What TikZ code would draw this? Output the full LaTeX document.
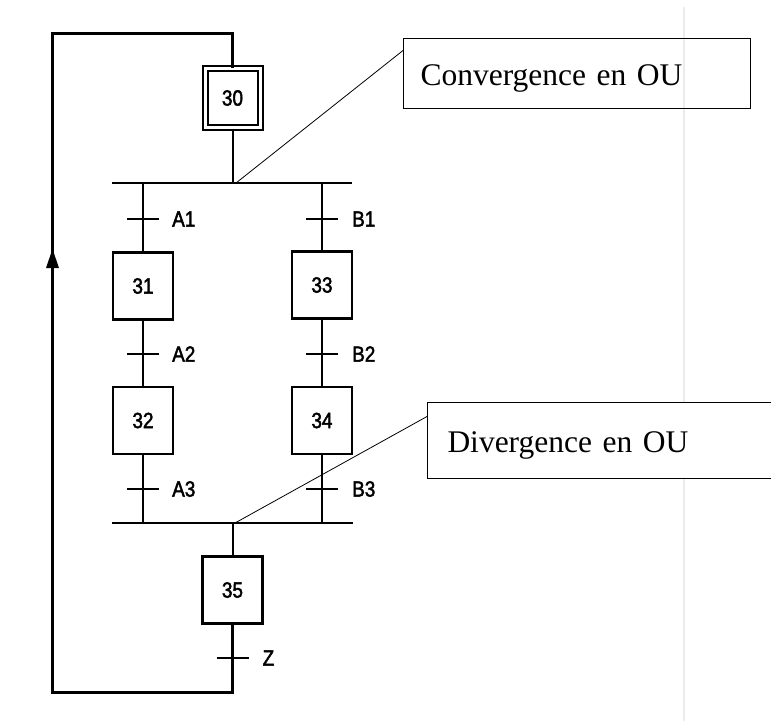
\documentclass[tikz,border=0pt]{standalone}
\usepackage{fontspec}
\setmainfont{Liberation Serif}
\newfontfamily\grafsans[FakeStretch=0.86, FakeBold=2]{Liberation Sans}
\usetikzlibrary{calc}
\begin{document}
\begin{tikzpicture}[x=1pt,y=-1pt,
  stepbox/.style={draw, line width=2.6pt, minimum width=60pt, minimum height=67pt,
    inner sep=0pt, fill=white, font=\grafsans\fontsize{22}{22}\selectfont},
  initstep/.style={stepbox, double, double distance=3pt, line width=2pt,
    minimum width=55pt, minimum height=59pt},
  link/.style={line width=2pt},
  bar/.style={line width=2.8pt},
  loopline/.style={line width=3pt},
  tick/.style={line width=2pt},
  cond/.style={anchor=west, inner sep=0pt, font=\grafsans\fontsize{22}{22}\selectfont},
  callout/.style={draw, line width=1pt, anchor=west, align=left, inner ysep=0pt,
    font=\fontsize{31.5}{34}\selectfont},
  leader/.style={line width=0.8pt}]

\clip (0,0) rectangle (771,721);
\fill[white] (0,0) rectangle (771,721);

% faint page margin rule
\draw[black!8, line width=2pt] (684,7) -- (684,721);

% steps
\node[initstep] (s30) at (232.5,98) {30};
\node[stepbox] (s31) at (143,286) {31};
\node[stepbox] (s32) at (143,420.5) {32};
\node[stepbox] (s33) at (322,285) {33};
\node[stepbox] (s34) at (322,420.5) {34};
\node[stepbox] (s35) at (232.5,590) {35};

% OR junction bars
\coordinate (topL) at (112,183);
\coordinate (topR) at (352,183);
\coordinate (botL) at (112,523);
\coordinate (botR) at (353,523);
\draw[bar] (topL) -- (topR);
\draw[bar] (botL) -- (botR);

% transitions
\coordinate (tA1) at (143,219);
\coordinate (tA2) at (143,354);
\coordinate (tA3) at (143,489);
\coordinate (tB1) at (322,219);
\coordinate (tB2) at (322,354);
\coordinate (tB3) at (322,489);
\coordinate (tZ) at (232.5,658);
\foreach \t in {tA1,tA2,tA3,tB1,tB2,tB3,tZ}
  \draw[tick] ($(\t)+(-16,0)$) -- ($(\t)+(16,0)$);
\node[cond] (lA1) at ($(tA1)+(29,0)$) {A1};
\node[cond] (lA2) at ($(tA2)+(29,0)$) {A2};
\node[cond] (lA3) at ($(tA3)+(29,0)$) {A3};
\node[cond] (lB1) at ($(tB1)+(30,0)$) {B1};
\node[cond] (lB2) at ($(tB2)+(30,0)$) {B2};
\node[cond] (lB3) at ($(tB3)+(30,0)$) {B3};
\node[cond] (lZ) at ($(tZ)+(30,0)$) {Z};

% links between steps and bars
\draw[link] (s30.south) -- (s30.south |- topL);
\draw[link] (s31.north |- topL) -- (s31.north);
\draw[link] (s31.south) -- (s32.north);
\draw[link] (s32.south) -- (s32.south |- botL);
\draw[link] (s33.north |- topL) -- (s33.north);
\draw[link] (s33.south) -- (s34.north);
\draw[link] (s34.south) -- (s34.south |- botL);
\draw[link] (s35.north |- botL) -- (s35.north);

% return loop from 35 back to 30
\coordinate (cTop) at (232.5,33);
\coordinate (cTL) at (52.5,33);
\coordinate (cBL) at (52.5,692);
\coordinate (cBR) at (232.5,692);
\draw[loopline] (s35.south) -- (cBR) -- (cBL) -- (cTL) -- (cTop) -- (s30.north);
\coordinate (arr) at (52.5,268);
\fill (arr) -- ++(-6.5,0) -- ++(6.5,-19) -- ++(6.5,19) -- cycle;

% callouts
\node[callout, text width=313pt, inner xsep=17pt, text height=47pt, text depth=23pt]
  (conv) at (403,73) {Convergence en OU};
\node[callout, fill=white, text width=360pt, inner xsep=20pt, text height=50pt, text depth=26pt]
  (div) at (427,440) {Divergence en OU};
\coordinate (convFoot) at (236,183);
\coordinate (divFoot) at (235,523);
\draw[leader] ($(conv.north west)+(0,13)$) -- (convFoot);
\draw[leader] ($(div.north west)+(0,15)$) -- (divFoot);
\end{tikzpicture}
\end{document}
